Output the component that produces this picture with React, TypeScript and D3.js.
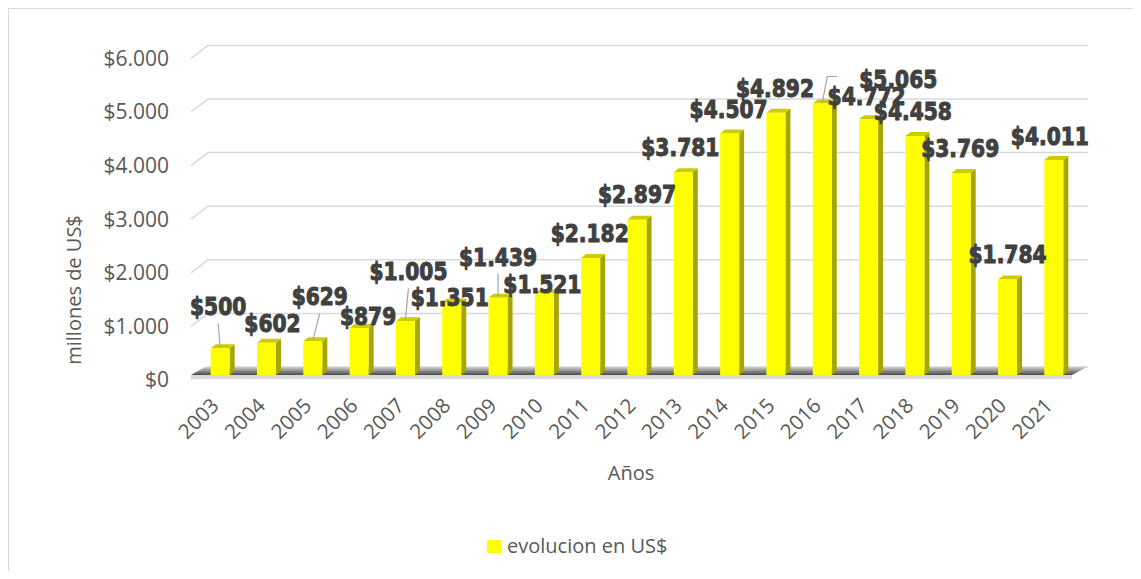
import React from 'react';
import * as d3 from 'd3';

const years = ['2003','2004','2005','2006','2007','2008','2009','2010','2011','2012','2013','2014','2015','2016','2017','2018','2019','2020','2021'];
const values = [500,602,629,879,1005,1351,1439,1521,2182,2897,3781,4507,4892,5065,4772,4458,3769,1784,4011];
const yTicks = [0,1000,2000,3000,4000,5000,6000];
const seriesName = 'evolucion en US$';
const xTitle = 'Años';
const yTitle = 'millones de US$';

// label layout offsets (relative to bar top) – layout only
const labelDx = [-2,6,7,9,3,-2,0,-2,-1,0,-3,-1,-1,76,-2,-2,-1,0,-4];
const labelDy = [-33,-11,-36,-3,-41,3,-32,0,-16,-17,-16,-15,-16,-16,-14,-16,-16,-16,-15];
const straightLeaders = [0,2,4,6];
const elbowLeaders = [13];

const locale = d3.formatLocale({ decimal: ',', thousands: '.', grouping: [3], currency: ['$', ''] });
const fmt = locale.format('$,');

export default function App() {
  const W = 1133, H = 563;
  const frontLeft = 191, frontRight = 1071;
  const x = d3.scaleBand<string>().domain(years).range([frontLeft, frontRight]).paddingInner(0.59).paddingOuter(0.295);
  const y = d3.scaleLinear().domain([0, 6000]).range([367, 45.4]);
  const barShift = 6;
  const barFrontDrop = 8;
  const bw = x.bandwidth();
  const dX = 5, dY = 4;
  const wallDx = 17, wallDy = 13;
  const font = "'Open Sans', sans-serif";
  const labelFont = "'DejaVu Sans Condensed', 'DejaVu Sans', sans-serif";

  const barCenter = (i: number) => (x(years[i]) as number) + bw / 2 + barShift;
  const barTop = (i: number) => y(values[i]) + barFrontDrop;
  const base = y(0) + barFrontDrop;

  return (
    <svg width={W} height={H} style={{ display: 'block' }}>
      <defs>
        <linearGradient id="floorGrad" x1="0" y1="0" x2="0" y2="1">
          <stop offset="0%" stopColor="#d0d0d0" />
          <stop offset="100%" stopColor="#4a4a4a" />
        </linearGradient>
      </defs>
      <g transform="translate(-8,-8)">
        <rect x={8.5} y={8.5} width={1140} height={600} fill="#fff" stroke="#d9d9d9" strokeWidth={1} />

        {yTicks.map(t => (
          <path key={t}
            d={`M${frontLeft},${y(t) + wallDy} L${frontLeft + wallDx},${y(t)} L1088,${y(t)}`}
            fill="none" stroke="#d9d9d9" strokeWidth={1.5} />
        ))}

        <polygon points={`${frontLeft},${base} ${frontRight + 1},${base} ${1087},${y(0)} ${frontLeft + 14},${y(0)}`}
          fill="url(#floorGrad)" />
        <polygon points={`${frontLeft},${base} ${frontRight + 1},${base} ${frontRight + 1},${base + 4} ${frontLeft},${base + 4}`}
          fill="#d9d9d9" />

        {yTicks.map(t => (
          <text key={t} x={169} y={y(t) + wallDy} dy="0.35em" textAnchor="end"
            fontFamily={font} fontSize={21} fill="#595959">{fmt(t)}</text>
        ))}

        {values.map((v, i) => {
          const cx = barCenter(i);
          const x0 = cx - bw / 2, x1 = cx + bw / 2;
          const top = barTop(i);
          return (
            <g key={years[i]}>
              <polygon points={`${x1},${top} ${x1 + dX},${top - dY} ${x1 + dX},${base - dY} ${x1},${base}`} fill="#a6a600" />
              <polygon points={`${x0},${top} ${x0 + dX},${top - dY} ${x1 + dX},${top - dY} ${x1},${top}`} fill="#cccc00" />
              <rect x={x0} y={top} width={bw} height={base - top} fill="#ffff00" />
            </g>
          );
        })}

        {years.map((yr, i) => (
          <text key={yr} transform={`translate(${barCenter(i)},${407}) rotate(-45)`} textAnchor="end"
            fontFamily={font} fontSize={20.5} fill="#595959">{yr}</text>
        ))}

        {straightLeaders.map(i => (
          <line key={'l' + i}
            x1={barCenter(i) + labelDx[i]} y1={barTop(i) + labelDy[i] + 8}
            x2={barCenter(i)} y2={barTop(i) - 1}
            stroke="#a6a6a6" strokeWidth={1.2} />
        ))}
        {elbowLeaders.map(i => {
          const by = barTop(i) + labelDy[i] - 11;
          return (
            <polyline key={'e' + i} fill="none" stroke="#a6a6a6" strokeWidth={1.2}
              points={`${barCenter(i)},${barTop(i) - 1} ${barCenter(i) + 5},${by} ${barCenter(i) + 15},${by}`} />
          );
        })}

        {values.map((v, i) => (
          <text key={'d' + i} transform={`translate(${barCenter(i) + labelDx[i]},${barTop(i) + labelDy[i]}) scale(1,1.12)`} textAnchor="middle"
            fontFamily={labelFont} fontWeight="bold" fontSize={22.5} fill="#404040"
            stroke="#404040" strokeWidth={0.9} strokeLinejoin="round">{fmt(v)}</text>
        ))}

        <text transform="translate(81,290) rotate(-90)" textAnchor="middle" fontFamily={font} fontSize={20} fill="#595959">{yTitle}</text>
        <text x={631} y={480} textAnchor="middle" fontFamily={font} fontSize={20} fill="#595959">{xTitle}</text>

        <rect x={487} y={540} width={14} height={13} fill="#ffff00" />
        <text x={507} y={553} fontFamily={font} fontSize={20} fill="#595959">{seriesName}</text>
      </g>
    </svg>
  );
}
